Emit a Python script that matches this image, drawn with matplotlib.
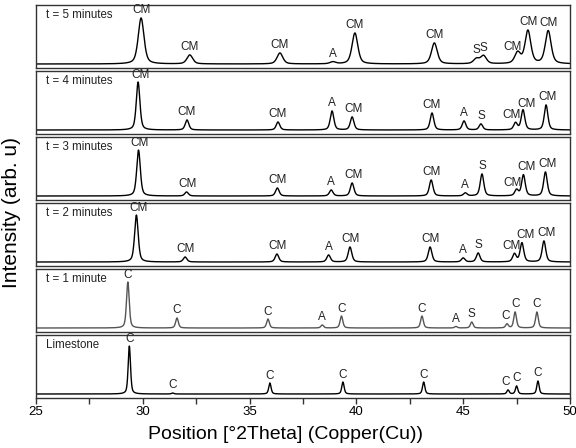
import numpy as np
import matplotlib.pyplot as plt
from matplotlib.ticker import MultipleLocator

plt.rcParams["font.family"] = ["Liberation Sans", "DejaVu Sans"]

# panel names, top to bottom
titles = ["t = 5 minutes", "t = 4 minutes", "t = 3 minutes",
          "t = 2 minutes", "t = 1 minute", "Limestone"]

# peak positions (deg 2theta) and heights
pos_5 = [29.92, 32.2, 36.42, 38.9, 39.93, 43.65, 45.62, 45.95, 47.55, 48.03, 48.98]
hgt_5 = [46, 9, 11, 2, 31, 21, 5, 8, 11, 33, 33]
pos_4 = [29.78, 32.07, 36.33, 38.86, 39.8, 43.54, 45.04, 45.83, 47.45, 47.8, 48.88]
hgt_4 = [48, 10, 8, 19, 13, 17, 9, 6, 7, 20, 25]
pos_3 = [29.8, 32.05, 36.3, 38.82, 39.8, 43.5, 45.1, 45.88, 47.5, 47.82, 48.85]
hgt_3 = [46, 4, 8, 6, 13, 16, 3, 22, 6, 21, 24]
pos_2 = [29.7, 31.98, 36.28, 38.7, 39.7, 43.45, 45.0, 45.7, 47.4, 47.75, 48.78]
hgt_2 = [47, 5, 8, 7, 15, 15, 4, 9, 8, 19, 21]
pos_1 = [29.3, 31.6, 35.86, 38.4, 39.3, 43.07, 44.66, 45.4, 47.05, 47.43, 48.45]
hgt_1 = [46, 10, 9, 3, 12, 12, 1.5, 6, 4, 16, 16]
pos_0 = [29.37, 31.4, 35.95, 39.37, 43.15, 47.1, 47.5, 48.5]
hgt_0 = [48, 1, 11, 12, 12, 4, 8, 13]

# peak labels: (text, x)
lab_5 = [("CM", 29.92), ("CM", 32.2), ("CM", 36.42), ("A", 38.9), ("CM", 39.93),
         ("CM", 43.65), ("S", 45.62), ("S", 45.95), ("CM", 47.3), ("CM", 48.05), ("CM", 48.98)]
lab_4 = [("CM", 29.9), ("CM", 32.07), ("CM", 36.33), ("A", 38.86), ("CM", 39.85),
         ("CM", 43.54), ("A", 45.04), ("S", 45.83), ("CM", 47.28), ("CM", 47.98), ("CM", 48.97)]
lab_3 = [("CM", 29.85), ("CM", 32.1), ("CM", 36.3), ("A", 38.82), ("CM", 39.85),
         ("CM", 43.5), ("A", 45.1), ("S", 45.88), ("CM", 47.3), ("CM", 47.95), ("CM", 48.95)]
lab_2 = [("CM", 29.8), ("CM", 32.0), ("CM", 36.3), ("A", 38.7), ("CM", 39.75),
         ("CM", 43.45), ("A", 45.0), ("S", 45.7), ("CM", 47.25), ("CM", 47.9), ("CM", 48.9)]
lab_1 = [("C", 29.3), ("C", 31.6), ("C", 35.86), ("A", 38.4), ("C", 39.3),
         ("C", 43.07), ("A", 44.66), ("S", 45.4), ("C", 47.0), ("C", 47.45), ("C", 48.45)]
lab_0 = [("C", 29.4), ("C", 31.4), ("C", 35.95), ("C", 39.37), ("C", 43.15),
         ("C", 47.0), ("C", 47.5), ("C", 48.5)]

positions = [pos_5, pos_4, pos_3, pos_2, pos_1, pos_0]
heights = [hgt_5, hgt_4, hgt_3, hgt_2, hgt_1, hgt_0]
labels = [lab_5, lab_4, lab_3, lab_2, lab_1, lab_0]
widths = [0.16, 0.1, 0.1, 0.1, 0.075, 0.065]
colors = ["black", "black", "black", "black", "#555555", "black"]

x = np.linspace(25, 50, 2500)


def pattern(xx, pos, hgt, w):
    y = np.zeros_like(xx)
    for p, h in zip(pos, hgt):
        d = (xx - p) / w
        y += h * (0.5 / (1 + d ** 2) + 0.5 * np.exp(-np.log(2) * d ** 2))
    return y


fig = plt.figure(figsize=(5.76, 4.48), dpi=100)
W, H = 576, 448
left, right = 36, 570
tops = [5, 71, 137, 203, 269, 335]
ph = 63

for i in range(6):
    ax = fig.add_axes([left / W, 1 - (tops[i] + ph) / H, (right - left) / W, ph / H])
    y = pattern(x, positions[i], heights[i], widths[i])
    ax.plot(x, y, color=colors[i], lw=1)
    ax.set_xlim(25, 50)
    ax.set_ylim(-4, 59)
    ax.set_yticks([])
    for s in ax.spines.values():
        s.set_color("#333333")
        s.set_linewidth(1)
    ax.text(0.019, 0.84, titles[i], transform=ax.transAxes, fontsize=8.3,
            va="center", ha="left", color="#222222")
    for txt, lx in labels[i]:
        m = (x > lx - 0.15) & (x < lx + 0.15)
        ly = y[m].max() + 1.5
        ax.text(lx, ly, txt, fontsize=8.5, ha="center", va="bottom", color="#222222")
    ax.xaxis.set_major_locator(MultipleLocator(5))
    ax.xaxis.set_minor_locator(MultipleLocator(2.5))
    if i < 5:
        ax.tick_params(axis="x", which="both", bottom=False, labelbottom=False)
    else:
        ax.tick_params(axis="x", which="both", direction="out", length=4,
                       width=1, color="#333333", labelsize=9.5, pad=2)
        ax.set_xlabel("Position [°2Theta] (Copper(Cu))", fontsize=14)
        ax.xaxis.set_label_coords(0.468, -0.45)

fig.text(12 / W, 1 - 213 / H, "Intensity (arb. u)", rotation=90, fontsize=15,
         ha="center", va="center")

fig.savefig("out.png", dpi=100)
